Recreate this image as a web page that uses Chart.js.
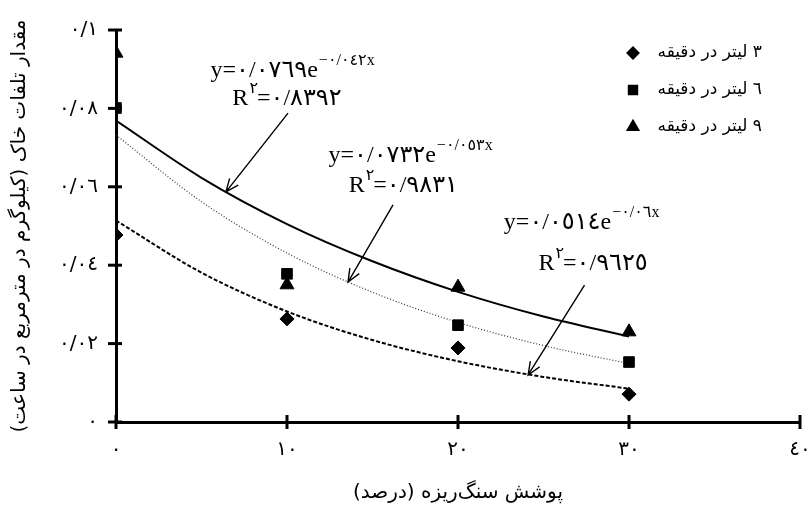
<!DOCTYPE html>
<html>
<head>
<meta charset="utf-8">
<script src="https://cdn.jsdelivr.net/npm/chart.js@4.4.0/dist/chart.umd.min.js"></script>
<style>
  body { margin: 0; background: #fff; }
</style>
</head>
<body>
<canvas id="cuadroGrafico" width="811" height="511"></canvas>
<script>

// data
var pushesh = [0, 10, 20, 30];
var talafat3 = [0.0477, 0.0263, 0.0189, 0.0071];
var talafat6 = [0.0801, 0.0378, 0.0247, 0.0153];
var talafat9 = [0.0941, 0.035, 0.0344, 0.023];

// trend curves read at every 5 units
var roondX = [0, 5, 10, 15, 20, 25, 30];
var roond3 = [0.0514, 0.0381, 0.0282, 0.0209, 0.0155, 0.0115, 0.0085];
var roond6 = [0.0732, 0.0562, 0.0431, 0.0331, 0.0254, 0.0195, 0.0149];
var roond9 = [0.0769, 0.0623, 0.0505, 0.0410, 0.0332, 0.0269, 0.0218];

var barchasbha = ['۳ لیتر در دقیقه', '٦ لیتر در دقیقه', '٩ لیتر در دقیقه'];
var xTicks = [0, 10, 20, 30, 40];
var yTicks = [0, 0.02, 0.04, 0.06, 0.08, 0.1];

var faDigits = ['٠', '١', '٢', '٣', '٤', '٥', '٦', '٧', '٨', '٩'];

function beFarsi (adad) {
    var s = String(Math.round(adad * 1000) / 1000);
    var out = '';
    for (var i = 0; i < s.length; i++) {
        var c = s[i];
        if (c >= '0' && c <= '9') out += faDigits[+c];
        else if (c == '.') out += '/';
        else out += c;
    }
    return out;
}

function zojha (xs, ys) {
    var arr = [];
    for (var i = 0; i < xs.length; i++) arr.push({x: xs[i], y: ys[i]});
    return arr;
}

// equation labels and arrows, in data units
var moadelat = [
    {x: 10.3, y: 0.088, base: 'y=٠/٠٧٦٩e', sup: '−٠/٠٤٢x'},
    {x: 10.0, y: 0.0809, base: 'R', sup: '٢', tail: '=٠/٨٣٩٢'},
    {x: 17.2, y: 0.0663, base: 'y=٠/٠٧٣٢e', sup: '−٠/٠٥٣x'},
    {x: 16.8, y: 0.0587, base: 'R', sup: '٢', tail: '=٠/٩٨٣١'},
    {x: 27.2, y: 0.0492, base: 'y=٠/٠٥١٤e', sup: '−٠/٠٦x'},
    {x: 27.9, y: 0.0388, base: 'R', sup: '٢', tail: '=٠/٩٦٢٥'}
];
var peikanha = [
    {x1: 10.06, y1: 0.0788, x2: 6.43, y2: 0.0587},
    {x1: 16.2, y1: 0.0554, x2: 13.57, y2: 0.0357},
    {x1: 27.4, y1: 0.0349, x2: 24.1, y2: 0.012}
];

var fontMoadele = "24px 'Liberation Serif', 'DejaVu Sans', serif";
var fontSup = "16px 'Liberation Serif', 'DejaVu Sans', serif";

var pluginMoadele = {
    id: 'moadele',
    afterDatasetsDraw: function (chart) {
        var ctx = chart.ctx;
        var sx = chart.scales.x, sy = chart.scales.y;
        ctx.save();
        ctx.fillStyle = 'black';
        ctx.strokeStyle = 'black';
        ctx.textBaseline = 'alphabetic';
        ctx.textAlign = 'left';
        ctx.direction = 'ltr';

        // tick marks crossing the axes
        ctx.lineWidth = 3;
        xTicks.forEach(function (v) {
            var px = sx.getPixelForValue(v);
            ctx.beginPath();
            ctx.moveTo(px, sy.bottom + 7);
            ctx.lineTo(px, sy.bottom - 7);
            ctx.stroke();
        });
        yTicks.forEach(function (v) {
            var py = sy.getPixelForValue(v);
            ctx.beginPath();
            ctx.moveTo(sx.left - 8, py);
            ctx.lineTo(sx.left + 6, py);
            ctx.stroke();
        });

        moadelat.forEach(function (m) {
            ctx.font = fontMoadele;
            var w1 = ctx.measureText(m.base).width;
            var w3 = m.tail ? ctx.measureText(m.tail).width : 0;
            ctx.font = fontSup;
            var w2 = ctx.measureText(m.sup).width;
            var cx = sx.getPixelForValue(m.x);
            var by = sy.getPixelForValue(m.y);
            var x0 = cx - (w1 + w2 + w3) / 2;
            ctx.font = fontMoadele;
            ctx.fillText(m.base, x0, by);
            ctx.font = fontSup;
            ctx.fillText(m.sup, x0 + w1 + 1, by - 12);
            if (m.tail) {
                ctx.font = fontMoadele;
                ctx.fillText(m.tail, x0 + w1 + w2, by);
            }
        });

        ctx.lineWidth = 1.4;
        peikanha.forEach(function (p) {
            var ax = sx.getPixelForValue(p.x1), ay = sy.getPixelForValue(p.y1);
            var bx = sx.getPixelForValue(p.x2), by = sy.getPixelForValue(p.y2);
            var zavie = Math.atan2(by - ay, bx - ax);
            ctx.beginPath();
            ctx.moveTo(ax, ay);
            ctx.lineTo(bx, by);
            ctx.moveTo(bx - 14 * Math.cos(zavie - 0.4), by - 14 * Math.sin(zavie - 0.4));
            ctx.lineTo(bx, by);
            ctx.lineTo(bx - 14 * Math.cos(zavie + 0.4), by - 14 * Math.sin(zavie + 0.4));
            ctx.stroke();
        });

        // legend
        var shekl = ['rectRot', 'rect', 'triangle'];
        var shoa = [7, 7.5, 8];
        ctx.font = "17px 'DejaVu Sans', sans-serif";
        ctx.textAlign = 'right';
        ctx.textBaseline = 'middle';
        ctx.direction = 'rtl';
        for (var i = 0; i < 3; i++) {
            var ly = 53 + i * 37;
            Chart.helpers.drawPoint(ctx, {pointStyle: shekl[i], radius: shoa[i] * 0.85, borderWidth: 1}, 633, ly);
            ctx.fill();
            ctx.fillText(barchasbha[i], 762, ly);
        }
        ctx.restore();
    }
};

var cuadroGrafico = document.getElementById('cuadroGrafico');

var lineChart = new Chart(cuadroGrafico, {
    type: 'scatter',
    data: {
        datasets: [
            {label: barchasbha[0], data: zojha(pushesh, talafat3), pointStyle: 'rectRot', pointRadius: 7,
             backgroundColor: 'black', borderColor: 'black', borderWidth: 1},
            {label: barchasbha[1], data: zojha(pushesh, talafat6), pointStyle: 'rect', pointRadius: 7.5,
             backgroundColor: 'black', borderColor: 'black', borderWidth: 1},
            {label: barchasbha[2], data: zojha(pushesh, talafat9), pointStyle: 'triangle', pointRadius: 8,
             backgroundColor: 'black', borderColor: 'black', borderWidth: 1},
            {label: 'roond9', data: zojha(roondX, roond9), showLine: true, pointRadius: 0,
             borderColor: 'black', borderWidth: 2, cubicInterpolationMode: 'monotone'},
            {label: 'roond6', data: zojha(roondX, roond6), showLine: true, pointRadius: 0,
             borderColor: '#333', borderWidth: 1.2, borderDash: [1, 2], cubicInterpolationMode: 'monotone'},
            {label: 'roond3', data: zojha(roondX, roond3), showLine: true, pointRadius: 0,
             borderColor: 'black', borderWidth: 2, borderDash: [4, 2], cubicInterpolationMode: 'monotone'}
        ]
    },
    options: {
        responsive: false,
        animation: false,
        devicePixelRatio: 1,
        layout: {padding: {top: 30, right: 11, left: 0, bottom: 0}},
        plugins: {
            legend: {display: false},
            tooltip: {enabled: false}
        },
        scales: {
            x: {
                type: 'linear', min: 0, max: 40,
                afterBuildTicks: function (s) { s.ticks = xTicks.map(function (v) { return {value: v}; }); },
                afterFit: function (s) { s.height = 89; s.paddingLeft = 0; s.paddingRight = 0; },
                ticks: {
                    color: 'black', padding: 10, maxRotation: 0,
                    font: {family: "'DejaVu Sans', sans-serif", size: 20},
                    callback: function (v) { return beFarsi(v); }
                },
                grid: {drawOnChartArea: false, color: 'black', lineWidth: 2, tickLength: 6},
                border: {color: 'black', width: 3},
                title: {
                    display: true, text: 'پوشش سنگ‌ریزه (درصد)', color: 'black',
                    font: {family: "'DejaVu Sans', sans-serif", size: 20},
                    padding: {top: 4, bottom: 6}
                }
            },
            y: {
                min: 0, max: 0.1,
                afterBuildTicks: function (s) { s.ticks = yTicks.map(function (v) { return {value: v}; }); },
                afterFit: function (s) { s.width = 116; s.paddingTop = 0; s.paddingBottom = 0; },
                ticks: {
                    color: 'black', padding: 12,
                    font: {family: "'DejaVu Sans', sans-serif", size: 20},
                    callback: function (v) { return beFarsi(v); }
                },
                grid: {drawOnChartArea: false, color: 'black', lineWidth: 2, tickLength: 6},
                border: {color: 'black', width: 3},
                title: {
                    display: true, text: 'مقدار تلفات خاک (کیلوگرم در مترمربع در ساعت)', color: 'black',
                    font: {family: "'DejaVu Sans', sans-serif", size: 20},
                    padding: {top: 8, bottom: 4}
                }
            }
        }
    },
    plugins: [pluginMoadele]
});

</script>
</body>
</html>
